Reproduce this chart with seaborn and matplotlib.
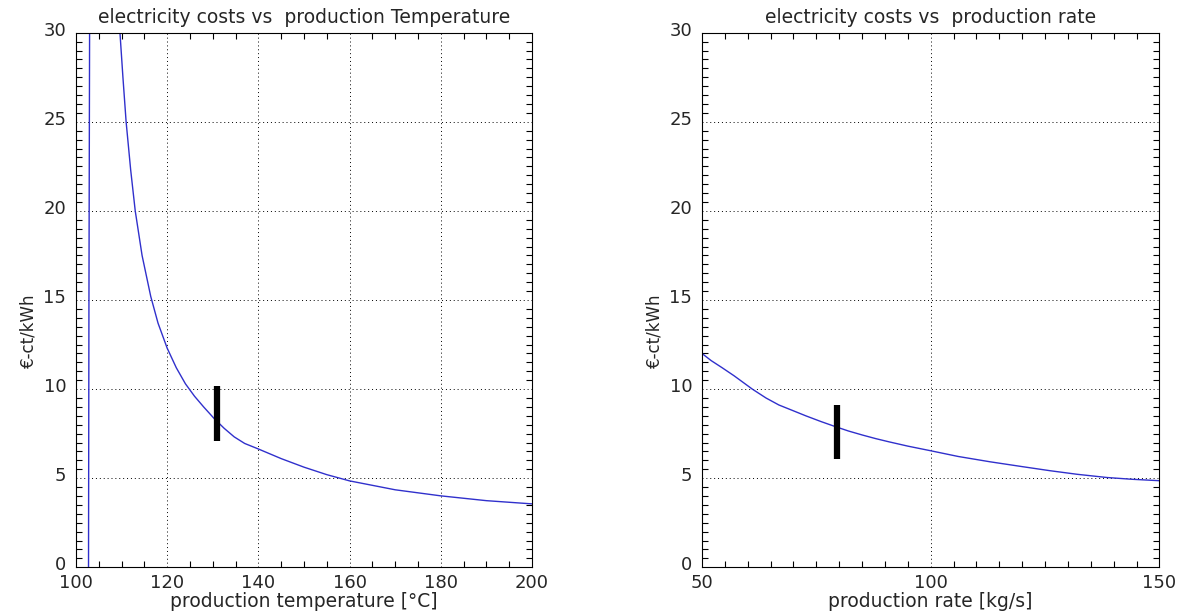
import matplotlib
matplotlib.use("Agg")
import matplotlib.pyplot as plt
import matplotlib.transforms as mtransforms
import seaborn as sns
import pandas as pd
from matplotlib.ticker import MultipleLocator

sns.set_style("ticks")
plt.rcParams['font.family'] = ['DejaVu Sans']

# ---- data: left panel (cost vs production temperature) ----
temp_branch1 = [102.75, 102.85, 103.0]
cost_branch1 = [-1.0, 15.0, 31.0]
temp_branch2 = [109.45, 109.65, 110.3, 111.0, 112.0, 113.0, 114.5, 116.4, 118.0,
                120.0, 122.0, 124.0, 126.0, 128.0, 130.3, 132.5, 134.7, 137.0,
                140.0, 145.0, 150.0, 155.0, 160.0, 170.0, 180.0, 190.0, 200.0]
cost_branch2 = [31.0, 30.0, 27.5, 25.0, 22.3, 20.0, 17.5, 15.2, 13.7,
                12.3, 11.2, 10.3, 9.6, 9.0, 8.35, 7.8, 7.32, 6.95,
                6.64, 6.1, 5.62, 5.2, 4.85, 4.35, 4.01, 3.74, 3.56]
temp_marker = [131.0, 131.0]
temp_marker_range = [7.1, 10.15]

# ---- data: right panel (cost vs production rate) ----
rate = [50.0, 52.0, 54.4, 57.0, 61.0, 64.0, 66.8, 70.0, 72.7, 76.0, 79.1, 82.0,
        85.1, 88.0, 90.9, 95.0, 100.0, 106.0, 113.0, 120.0, 126.1, 132.0,
        138.5, 144.0, 150.0]
rate_cost = [12.0, 11.6, 11.2, 10.75, 10.0, 9.5, 9.11, 8.78, 8.5, 8.18, 7.9, 7.65,
             7.42, 7.22, 7.04, 6.8, 6.54, 6.22, 5.92, 5.65, 5.42, 5.22,
             5.04, 4.94, 4.86]
rate_marker = [79.5, 79.5]
rate_marker_range = [6.05, 9.1]

titles = ["electricity costs vs  production Temperature",
          "electricity costs vs  production rate"]
xlabels = ["production temperature [\u00b0C]", "production rate [kg/s]"]
ylabel = "\u20ac-ct/kWh"

fig = plt.figure(figsize=(11.83, 6.11), dpi=100)
ax1 = fig.add_axes([0.0642, 0.0715, 0.3855, 0.875])
ax2 = fig.add_axes([0.5934, 0.0715, 0.3867, 0.875])

line_color = "#3030cc"

df1a = pd.DataFrame({"T": temp_branch1, "c": cost_branch1})
df1b = pd.DataFrame({"T": temp_branch2, "c": cost_branch2})
sns.lineplot(data=df1a, x="T", y="c", ax=ax1, color=line_color, lw=1.0,
             sort=False, estimator=None)
sns.lineplot(data=df1b, x="T", y="c", ax=ax1, color=line_color, lw=1.0,
             sort=False, estimator=None)
ax1.plot(temp_marker, temp_marker_range, color="black", lw=4.5,
         solid_capstyle="butt")

df2 = pd.DataFrame({"m": rate, "c": rate_cost})
sns.lineplot(data=df2, x="m", y="c", ax=ax2, color=line_color, lw=1.0,
             sort=False, estimator=None)
ax2.plot(rate_marker, rate_marker_range, color="black", lw=4.5,
         solid_capstyle="butt")

settings = [
    (ax1, (100, 200), 20, 5, titles[0], xlabels[0]),
    (ax2, (50, 150), 50, 5, titles[1], xlabels[1]),
]
shift_up = mtransforms.ScaledTranslation(0, 3 / 72, fig.dpi_scale_trans)
for ax, xlim, xmaj, xmin, title, xl in settings:
    ax.set_xlim(*xlim)
    ax.set_ylim(0, 30)
    ax.xaxis.set_major_locator(MultipleLocator(xmaj))
    ax.xaxis.set_minor_locator(MultipleLocator(xmin))
    ax.yaxis.set_major_locator(MultipleLocator(5))
    ax.yaxis.set_minor_locator(MultipleLocator(0.5))
    ax.grid(True, which="major", color="black", linestyle=(0, (1, 3)), lw=0.7)
    ax.tick_params(which="both", direction="in", top=True, right=True,
                   labelsize=13, color="black", width=0.8)
    ax.tick_params(which="major", length=0)
    ax.tick_params(which="minor", length=4)
    ax.tick_params(axis="x", which="major", pad=5)
    ax.tick_params(axis="y", which="major", pad=7)
    for lab in ax.get_yticklabels():
        lab.set_transform(lab.get_transform() + shift_up)
    for s in ax.spines.values():
        s.set_color("black")
        s.set_linewidth(0.8)
    ax.set_title(title, fontsize=13.5, pad=7)
    ax.set_xlabel(xl, fontsize=13.5, labelpad=0)
    ax.set_ylabel(ylabel, fontsize=12, labelpad=8)
    ax.yaxis.set_label_coords(-0.085, 0.443)

fig.savefig("out.png", dpi=100, facecolor="white")
